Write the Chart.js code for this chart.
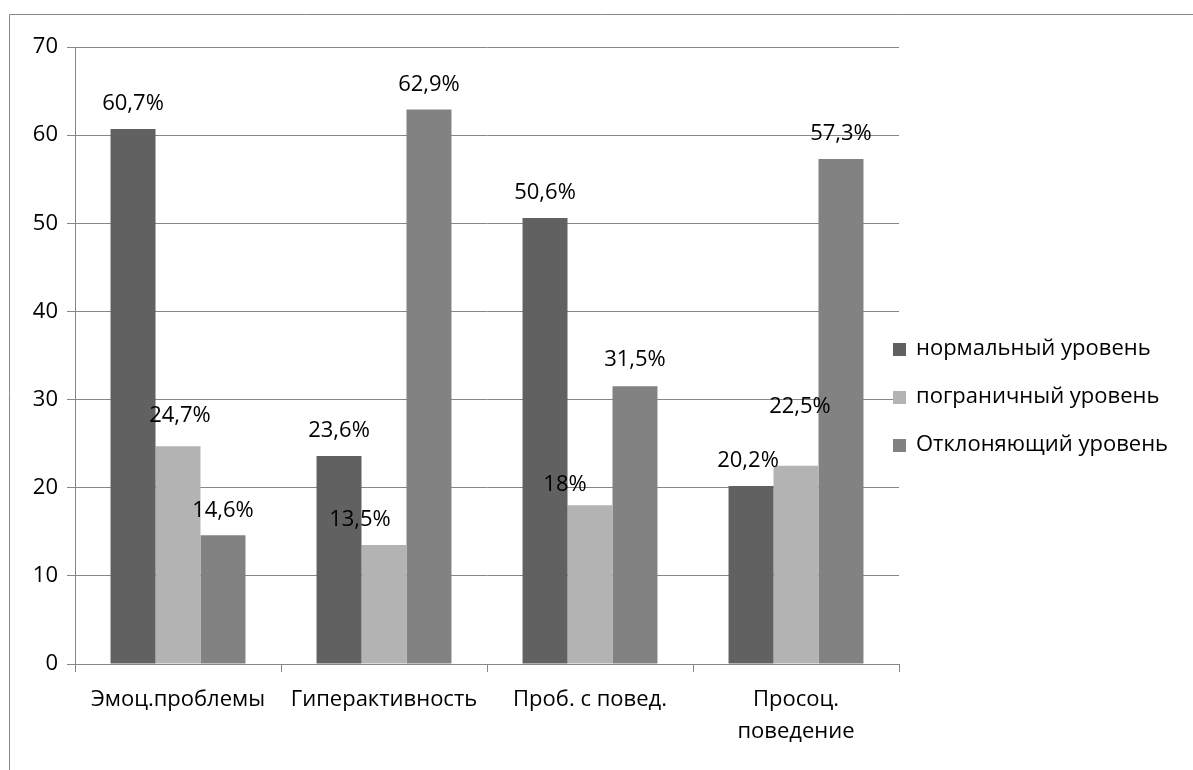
<!DOCTYPE html>
<html>
<head>
<meta charset="utf-8">
<script src="https://cdn.jsdelivr.net/npm/chart.js@4.4.1/dist/chart.umd.min.js"></script>
<style>
  html, body { margin: 0; padding: 0; background: #fff; }
  #wrap { width: 1193px; height: 770px; position: relative; }
</style>
</head>
<body>
<div id="wrap"><canvas id="chart" width="1193" height="770"></canvas></div>
<script>
const categories = ['Эмоц.проблемы', 'Гиперактивность', 'Проб. с повед.', ['Просоц.', 'поведение']];
const seriesNames = ['нормальный уровень', 'пограничный уровень', 'Отклоняющий уровень'];
const normalLevel = [60.7, 23.6, 50.6, 20.2];
const borderLevel = [24.7, 13.5, 18, 22.5];
const deviantLevel = [14.6, 62.9, 31.5, 57.3];
const valueLabels = [
    ['60,7%', '23,6%', '50,6%', '20,2%'],
    ['24,7%', '13,5%', '18%', '22,5%'],
    ['14,6%', '62,9%', '31,5%', '57,3%']
];
// label nudges [dx, dy] relative to bar top, as moved by hand in the original
const labelNudge = [
    [[0, 2], [0, 2], [0, 2], [-3, 2]],
    [[2, -4], [-24, 2], [-25, 6], [4, -32]],
    [[0, 2], [0, 2], [0, 0], [0, 2]]
];
const colors = ['#616161', '#b3b3b3', '#828282'];

const FONT = '"Open Sans", "Noto Sans", sans-serif';
const FSIZE = 22;
const gridColor = '#878787';

const frameAndLabels = {
    id: 'frameAndLabels',
    beforeDraw(chart) {
        const c = chart.ctx;
        c.save();
        c.strokeStyle = gridColor;
        c.lineWidth = 1;
        c.beginPath();
        c.moveTo(9.5, 800);
        c.lineTo(9.5, 14.5);
        c.lineTo(1300, 14.5);
        c.stroke();
        c.restore();
    },
    afterDatasetsDraw(chart) {
        const c = chart.ctx;
        c.save();
        c.font = FSIZE + 'px ' + FONT;
        c.fillStyle = '#000';
        c.textAlign = 'center';
        c.textBaseline = 'middle';
        chart.data.datasets.forEach((ds, i) => {
            chart.getDatasetMeta(i).data.forEach((bar, j) => {
                const n = labelNudge[i][j];
                c.fillText(valueLabels[i][j], bar.x + n[0], bar.y - 27 + n[1]);
            });
        });
        // legend
        const lx = 893, ly = 349, step = 48;
        c.textAlign = 'left';
        seriesNames.forEach((name, i) => {
            c.fillStyle = colors[i];
            c.fillRect(lx, ly + i * step - 6, 13, 13);
            c.fillStyle = '#000';
            c.fillText(name, lx + 23, ly + i * step);
        });
        c.restore();
    }
};

new Chart(document.getElementById('chart'), {
    type: 'bar',
    data: {
        labels: categories,
        datasets: [
            { label: seriesNames[0], data: normalLevel, backgroundColor: colors[0] },
            { label: seriesNames[1], data: borderLevel, backgroundColor: colors[1] },
            { label: seriesNames[2], data: deviantLevel, backgroundColor: colors[2] }
        ]
    },
    options: {
        responsive: false,
        animation: false,
        datasets: { bar: { categoryPercentage: 0.655, barPercentage: 1 } },
        layout: { padding: { left: 0, top: 47, right: 294, bottom: 0 } },
        plugins: { legend: { display: false }, tooltip: { enabled: false } },
        scales: {
            x: {
                grid: { offset: true, drawOnChartArea: false, color: gridColor, tickLength: 8 },
                border: { color: gridColor },
                ticks: { color: '#000', font: { family: FONT, size: FSIZE, lineHeight: 1.45 }, padding: 12, maxRotation: 0, autoSkip: false },
                afterFit(s) { s.height = 106; }
            },
            y: {
                min: 0, max: 70,
                ticks: { stepSize: 10, color: '#000', font: { family: FONT, size: FSIZE }, padding: 9 },
                grid: { color: gridColor, tickLength: 8 },
                border: { color: gridColor },
                afterFit(s) { s.width = 75; }
            }
        }
    },
    plugins: [frameAndLabels]
});
</script>
</body>
</html>
